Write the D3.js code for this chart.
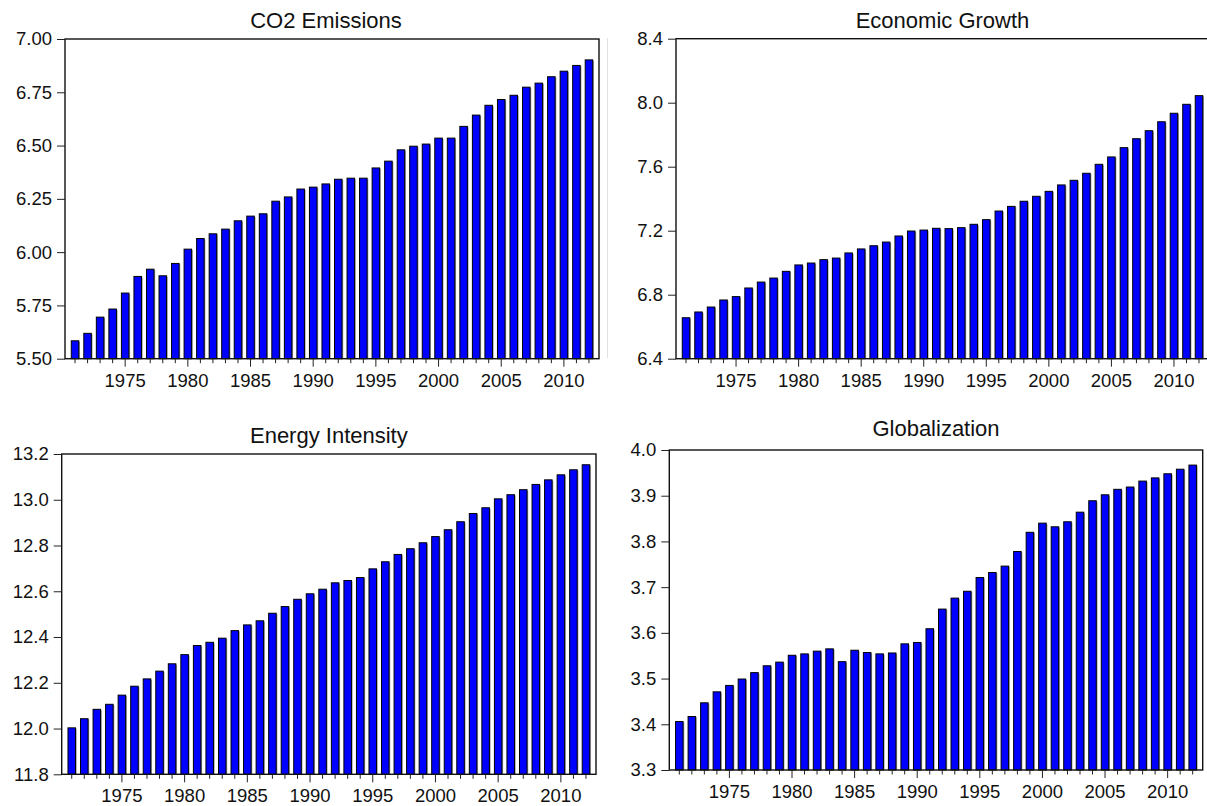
<!DOCTYPE html>
<html>
<head>
<meta charset="utf-8">
<script src="https://cdnjs.cloudflare.com/ajax/libs/d3/7.8.5/d3.min.js"></script>
<style>
  body { margin: 0; background: #fff; }
  svg { display: block; font-family: "Liberation Sans", Arial, sans-serif; }
</style>
</head>
<body>
<svg id="chart" width="1207" height="806"></svg>
<script>
var years = d3.range(1971, 2013)
var yearLabels = [1975, 1980, 1985, 1990, 1995, 2000, 2005, 2010]

var co2 = [5.584, 5.619, 5.695, 5.733, 5.808, 5.886, 5.920, 5.889, 5.947, 6.014,
  6.064, 6.086, 6.108, 6.147, 6.169, 6.180, 6.239, 6.259, 6.296, 6.305,
  6.320, 6.342, 6.347, 6.347, 6.395, 6.427, 6.480, 6.497, 6.507, 6.535,
  6.535, 6.590, 6.643, 6.689, 6.716, 6.736, 6.774, 6.793, 6.823, 6.849,
  6.876, 6.902]
var growth = [6.656, 6.692, 6.723, 6.767, 6.788, 6.842, 6.879, 6.904, 6.946, 6.986,
  6.998, 7.019, 7.029, 7.061, 7.086, 7.106, 7.129, 7.167, 7.198, 7.204,
  7.215, 7.213, 7.219, 7.240, 7.269, 7.323, 7.352, 7.384, 7.415, 7.446,
  7.486, 7.515, 7.559, 7.615, 7.661, 7.719, 7.775, 7.825, 7.881, 7.934,
  7.990, 8.044]
var energy = [12.003, 12.043, 12.084, 12.106, 12.146, 12.185, 12.217, 12.251, 12.283, 12.323,
  12.363, 12.377, 12.395, 12.428, 12.453, 12.471, 12.504, 12.533, 12.565, 12.589,
  12.609, 12.637, 12.647, 12.660, 12.698, 12.729, 12.761, 12.786, 12.812, 12.839,
  12.869, 12.904, 12.940, 12.965, 13.004, 13.022, 13.044, 13.067, 13.087, 13.109,
  13.131, 13.153]
var glob = [3.406, 3.417, 3.447, 3.471, 3.485, 3.499, 3.513, 3.528, 3.536, 3.551,
  3.554, 3.560, 3.565, 3.537, 3.562, 3.557, 3.554, 3.556, 3.576, 3.579,
  3.609, 3.652, 3.676, 3.691, 3.721, 3.732, 3.746, 3.778, 3.820, 3.840,
  3.832, 3.843, 3.864, 3.889, 3.902, 3.914, 3.919, 3.932, 3.939, 3.948,
  3.958, 3.967]

var co2Ticks = [5.50, 5.75, 6.00, 6.25, 6.50, 6.75, 7.00]
var growthTicks = [6.4, 6.8, 7.2, 7.6, 8.0, 8.4]
var energyTicks = [11.8, 12.0, 12.2, 12.4, 12.6, 12.8, 13.0, 13.2]
var globTicks = [3.3, 3.4, 3.5, 3.6, 3.7, 3.8, 3.9, 4.0]

var panels = [
  { title: "CO2 Emissions", values: co2, ticks: co2Ticks, fmt: ".2f",
    x0: 65, x1: 599, y0: 39, y1: 358.7, titleDx: -6, titleY: 28 },
  { title: "Economic Growth", values: growth, ticks: growthTicks, fmt: ".1f",
    x0: 676, x1: 1209, y0: 38.7, y1: 358.7, titleDx: 0, titleY: 28 },
  { title: "Energy Intensity", values: energy, ticks: energyTicks, fmt: ".1f",
    x0: 61.7, x1: 596, y0: 454, y1: 774.3, titleDx: 0, titleY: 443 },
  { title: "Globalization", values: glob, ticks: globTicks, fmt: ".1f",
    x0: 669.3, x1: 1202.7, y0: 450, y1: 770, titleDx: 0, titleY: 436 }
]

var svg = d3.select("#chart")

// faint separator left of the right column
svg.append("line")
  .attr("x1", 607.5).attr("x2", 607.5)
  .attr("y1", 38).attr("y2", 358)
  .attr("stroke", "#e2e2e2").attr("stroke-width", 1)

panels.forEach(function (p) {
  var x = d3.scaleBand()
    .domain(years)
    .range([p.x0, p.x1])
    .paddingInner(0.4)
    .paddingOuter(0.5)

  var y = d3.scaleLinear()
    .domain([p.ticks[0], p.ticks[p.ticks.length - 1]])
    .range([p.y1, p.y0])

  var g = svg.append("g")

  // title
  g.append("text")
    .attr("x", (p.x0 + p.x1) / 2 + p.titleDx)
    .attr("y", p.titleY)
    .attr("text-anchor", "middle")
    .attr("font-size", 22)
    .attr("fill", "#111")
    .text(p.title)

  var data = years.map((yr, i) => ({ year: yr, value: p.values[i] }))

  // bar shadows
  g.append("g")
    .selectAll("rect")
    .data(data)
    .join("rect")
      .attr("x", d => x(d.year) + 1.2)
      .attr("y", d => y(d.value) + 0.8)
      .attr("width", x.bandwidth())
      .attr("height", d => y(p.ticks[0]) - y(d.value) - 0.8)
      .attr("fill", "#9a9a9a")

  // bars
  g.append("g")
    .selectAll("rect")
    .data(data)
    .join("rect")
      .attr("x", d => x(d.year))
      .attr("y", d => y(d.value))
      .attr("width", x.bandwidth())
      .attr("height", d => y(p.ticks[0]) - y(d.value))
      .attr("fill", "#0000ff")
      .attr("stroke", "#000")
      .attr("stroke-width", 1)

  // frame
  g.append("rect")
    .attr("x", p.x0).attr("y", p.y0)
    .attr("width", p.x1 - p.x0).attr("height", p.y1 - p.y0)
    .attr("fill", "none")
    .attr("stroke", "#111")
    .attr("stroke-width", 1.4)

  // y axis
  var yAxis = d3.axisLeft(y)
    .tickValues(p.ticks)
    .tickFormat(d3.format(p.fmt))
    .tickSize(8)
    .tickPadding(5)
  var ya = g.append("g")
    .attr("transform", `translate(${p.x0},0)`)
    .call(yAxis)
  ya.select(".domain").remove()
  ya.selectAll("line").attr("stroke", "#222")
  ya.selectAll("text")
    .attr("font-size", 18.5)
    .attr("font-family", "Liberation Sans, Arial, sans-serif")
    .attr("fill", "#111")

  // x axis: minor ticks every year, longer at labelled years
  var xa = g.append("g")
    .attr("transform", `translate(0,${p.y1})`)
  xa.selectAll("line")
    .data(years)
    .join("line")
      .attr("x1", d => x(d) + x.bandwidth() / 2)
      .attr("x2", d => x(d) + x.bandwidth() / 2)
      .attr("y1", 0)
      .attr("y2", d => yearLabels.includes(d) ? 8 : 4.5)
      .attr("stroke", "#222")
      .attr("stroke-width", 1)
  xa.selectAll("text")
    .data(yearLabels)
    .join("text")
      .attr("x", d => x(d) + x.bandwidth() / 2)
      .attr("y", 28)
      .attr("text-anchor", "middle")
      .attr("font-size", 18.5)
      .attr("fill", "#111")
      .text(d => d)
})
</script>
</body>
</html>
